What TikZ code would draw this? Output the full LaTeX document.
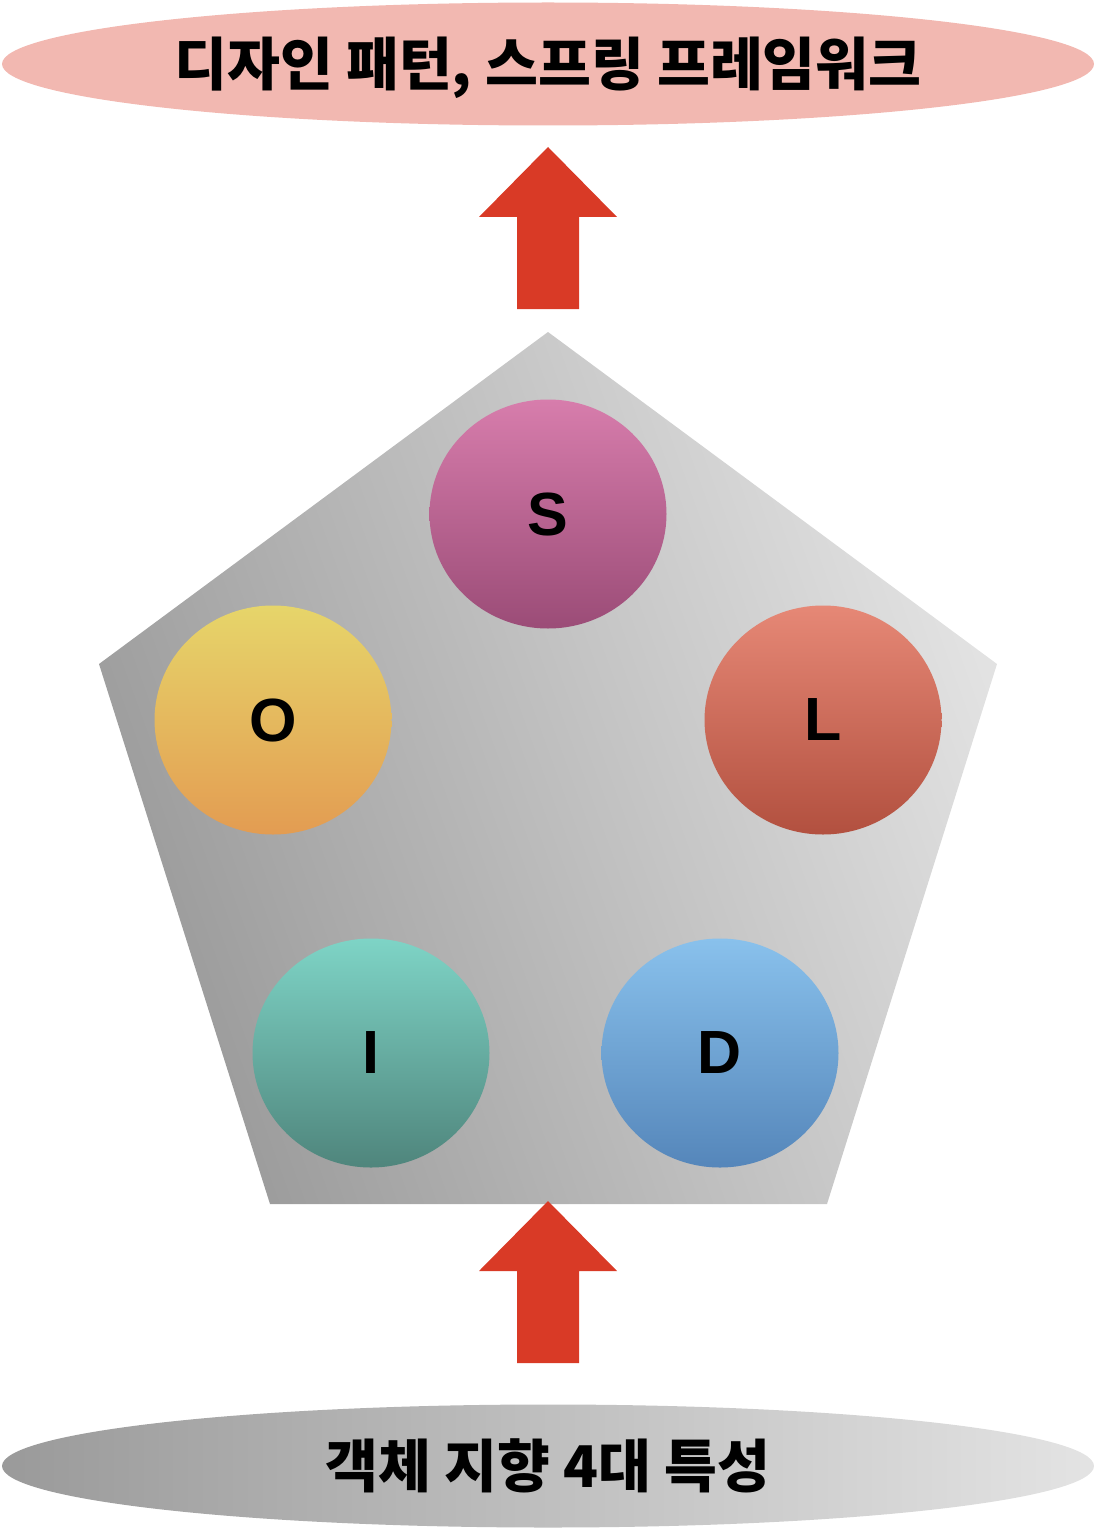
\documentclass[tikz,border=0pt]{standalone}
\usepackage{fontspec}
\setmainfont{Liberation Sans}
\newfontfamily\kr{Noto Sans CJK KR}
\usetikzlibrary{shapes.geometric}
\definecolor{topfill}{HTML}{F2B8B1}
\definecolor{arrowred}{HTML}{D93A26}
\definecolor{sTop}{HTML}{D77DAC}\definecolor{sBot}{HTML}{9B4C77}
\definecolor{oTop}{HTML}{E6D56A}\definecolor{oBot}{HTML}{E39C52}
\definecolor{lTop}{HTML}{E68876}\definecolor{lBot}{HTML}{B2503F}
\definecolor{iTop}{HTML}{7ED4C6}\definecolor{iBot}{HTML}{4F857C}
\definecolor{dTop}{HTML}{89C1EC}\definecolor{dBot}{HTML}{5586BA}
\definecolor{grayDark}{HTML}{9A9A9A}
\definecolor{grayLight}{HTML}{E2E2E2}
\begin{document}
\begin{tikzpicture}[x=1pt,y=-1pt,
  oval/.style={ellipse, minimum width=1092pt, minimum height=123pt, inner sep=0pt},
  ovaltext/.style={inner sep=0pt, font=\kr\bfseries\fontsize{57.5}{60}\selectfont},
  letter/.style={ellipse, minimum width=237pt, minimum height=229pt, inner sep=0pt,
    font=\bfseries\fontsize{61}{64}\selectfont},
  blockarrow/.style={fill=arrowred}]
\useasboundingbox (0,0) rectangle (1096,1530);
% pentagon
\coordinate (pT) at (548,332);
\coordinate (pL) at (99,664);
\coordinate (pR) at (997,664);
\coordinate (pBL) at (270,1204);
\coordinate (pBR) at (827,1204);
\shade[top color=grayLight, bottom color=grayDark, shading angle=-70]
  (pT) -- (pR) -- (pBR) -- (pBL) -- (pL) -- cycle;
% ovals
\node[oval, fill=topfill] (goal) at (548,64) {};
\node[ovaltext, yshift=-4pt] (goaltext) at (goal.center) {디자인 패턴, 스프링 프레임워크};
\node[oval, left color=grayDark, right color=grayLight!95!white] (base) at (548,1466) {};
\node[ovaltext] (basetext) at (base.center) {객체 지향 4대 특성};
% circles
\node[letter, top color=sTop, bottom color=sBot] (S) at (548,514) {S};
\node[letter, top color=oTop, bottom color=oBot] (O) at (273,720) {O};
\node[letter, top color=lTop, bottom color=lBot] (L) at (823,720) {L};
\node[letter, top color=iTop, bottom color=iBot] (I) at (371,1053) {I};
\node[letter, top color=dTop, bottom color=dBot] (D) at (720,1053) {D};
% block arrows
\coordinate (a1) at (548,147);
\coordinate (a2) at (548,1201);
\foreach \c in {a1,a2}{
  \fill[blockarrow] (\c) -- ++(69,70) -- ++(-38,0) -- ++(0,92) -- ++(-62,0)
    -- ++(0,-92) -- ++(-38,0) -- cycle;
}
\end{tikzpicture}
\end{document}
